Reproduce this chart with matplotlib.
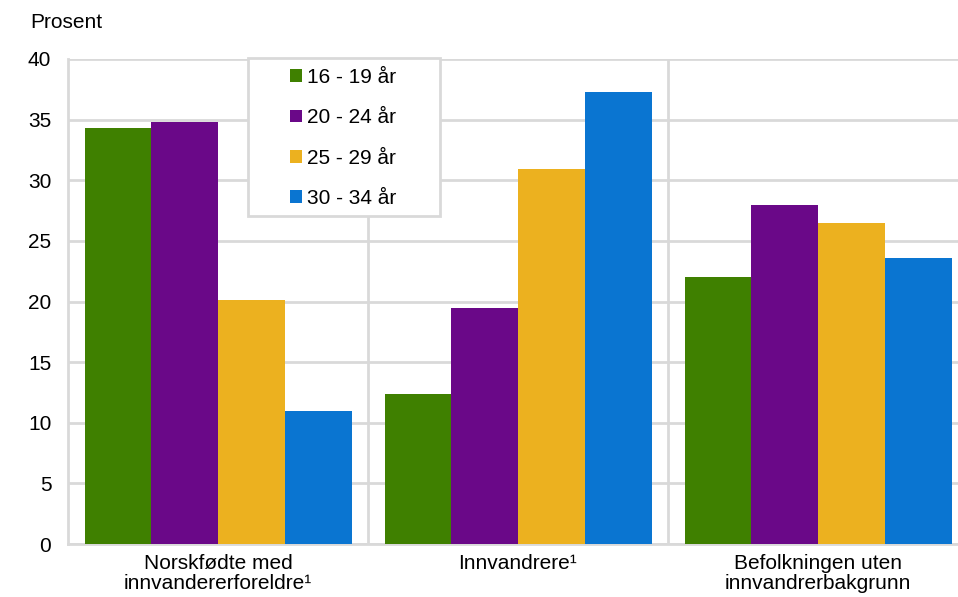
import numpy as np
from matplotlib import pyplot as plt
from matplotlib.patches import Rectangle

plt.rcParams['font.family'] = ['Liberation Sans', 'DejaVu Sans']

groups = ["Norskfødte med\ninnvandererforeldre¹", "Innvandrere¹", "Befolkningen uten\ninnvandrerbakgrunn"]
ages = ["16 - 19 år", "20 - 24 år", "25 - 29 år", "30 - 34 år"]
v16_19 = [34.3, 12.4, 22.0]
v20_24 = [34.8, 19.5, 28.0]
v25_29 = [20.1, 30.9, 26.5]
v30_34 = [11.0, 37.3, 23.6]
colors = ["#3f8000", "#6a0888", "#ecb11f", "#0a75d1"]

grid_col = "#d9d9d9"
fs = 15
fig = plt.figure(figsize=(9.58, 5.97), dpi=100)
ax = fig.add_axes((68/958, 53/597, 900/958, 485/597))

x = np.arange(len(groups))
w = 0.2225
for i, (vals, lab, c) in enumerate(zip([v16_19, v20_24, v25_29, v30_34], ages, colors)):
    ax.bar(x + (i - 1.5)*w, vals, w, color=c, label=lab, zorder=3)

ax.set_xlim(-0.5, 2.5)
ax.set_ylim(0, 40)
ax.set_yticks(range(0, 41, 5))
ax.set_xticks(x)
ax.set_xticklabels(groups, fontsize=fs, linespacing=1.08)
ax.set_xticks([0.5, 1.5], minor=True)
ax.tick_params(axis='y', labelsize=fs, length=0, pad=12)
ax.tick_params(axis='x', which='both', length=0, pad=7)
ax.grid(axis='y', color=grid_col, lw=2, zorder=0)
ax.grid(axis='x', which='minor', color=grid_col, lw=2, zorder=0)
for s in ['top', 'right']:
    ax.spines[s].set_visible(False)
for s in ['left', 'bottom']:
    ax.spines[s].set_color(grid_col)
    ax.spines[s].set_linewidth(2)

# legend box drawn separately so it can be wider than its content
x0, x1 = (248-68)/900, (440-68)/900
y0, y1 = (544-216)/485, (544-58)/485
ax.add_patch(Rectangle((x0, y0), x1-x0, y1-y0, transform=ax.transAxes,
                       facecolor='white', edgecolor=grid_col, lw=2,
                       zorder=5, clip_on=False))
leg = ax.legend(loc='center', bbox_to_anchor=((x0+x1)/2 - 0.001, (y0+y1)/2 - 0.002), fontsize=fs,
                handlelength=0.55, handleheight=0.55, handletextpad=0.25,
                labelspacing=1.02, borderpad=0, frameon=False)
leg.set_zorder(6)

fig.text(30/958, 1 - 22/597, "Prosent", fontsize=fs, va='center', ha='left')

fig.savefig("out.png", dpi=100)
